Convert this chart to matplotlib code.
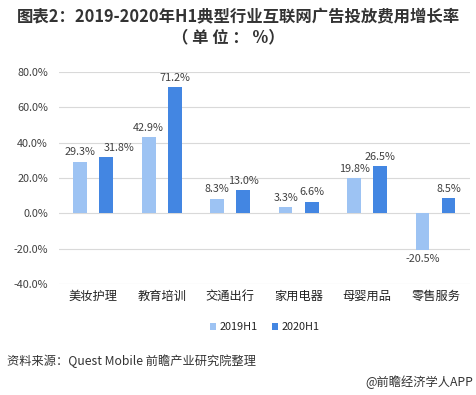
import numpy as np
import matplotlib
matplotlib.use('Agg')
import matplotlib.pyplot as plt

plt.rcParams['font.family'] = ['Noto Sans CJK SC', 'DejaVu Sans']

# Data
categories = ['美妆护理', '教育培训', '交通出行', '家用电器', '母婴用品', '零售服务']
series_names = ['2019H1', '2020H1']
values_2019 = [29.3, 42.9, 8.3, 3.3, 19.8, -20.5]
values_2020 = [31.8, 71.2, 13.0, 6.6, 26.5, 8.5]
yticks = [-40, -20, 0, 20, 40, 60, 80]

color_2019 = '#9dc3f3'
color_2020 = '#4386e2'
text_color = '#404040'

fig = plt.figure(figsize=(4.76, 3.95), dpi=100)
ax = fig.add_axes([0.124, 0.281, 0.863, 0.537])

x = np.arange(len(categories))
w = 0.2
off = 0.19
b1 = ax.bar(x - off, values_2019, w, color=color_2019, label=series_names[0], zorder=3)
b2 = ax.bar(x + off, values_2020, w, color=color_2020, label=series_names[1], zorder=3)

labels = {0: [], 1: []}
for k, (bars, vals) in enumerate([(b1, values_2019), (b2, values_2020)]):
    for rect, v in zip(bars, vals):
        cx = rect.get_x() + rect.get_width() / 2
        if v >= 0:
            t = ax.text(cx, v + 2.5, f'{v:.1f}%', ha='center', va='bottom',
                        fontsize=7.8, color=text_color)
        else:
            t = ax.text(cx, v - 2.5, f'{v:.1f}%', ha='center', va='top',
                        fontsize=7.8, color=text_color)
        labels[k].append(t)

ax.set_xlim(-0.5, len(categories) - 0.5)
ax.set_ylim(-40, 80)
ax.set_yticks(yticks)
ax.set_yticklabels([f'{t:.1f}%' for t in yticks], fontsize=7.8, color=text_color)
ax.set_xticks(x)
ax.set_xticklabels(categories, fontsize=8.8, color='#222222')
ax.tick_params(axis='both', length=0)
ax.tick_params(axis='y', pad=8)
ax.tick_params(axis='x', pad=4)
ax.grid(axis='y', color='#d9d9d9', linewidth=0.8, zorder=0)
for s in ax.spines.values():
    s.set_visible(False)

# nudge 2020 labels to the right when they clearly collide with the 2019 label
fig.canvas.draw()
r = fig.canvas.get_renderer()
for a, b in zip(labels[0], labels[1]):
    ba = a.get_window_extent(r)
    bb = b.get_window_extent(r)
    vert = min(ba.y1, bb.y1) - max(ba.y0, bb.y0)
    horiz = ba.x1 - bb.x0
    if vert > 0 and horiz > 3:
        shift = horiz + 8
        xd, yd = b.get_position()
        px = ax.transData.transform((xd, yd))
        b.set_position(ax.transData.inverted().transform((px[0] + shift, px[1])))

ax.legend(loc='center', bbox_to_anchor=(0.5, -0.205), ncol=2, frameon=False,
          fontsize=7.8, handlelength=0.6, handleheight=0.6, handletextpad=0.3,
          columnspacing=1.3, labelcolor='#222222')

fig.text(0.5, 0.955, '图表2：2019-2020年H1典型行业互联网广告投放费用增长率',
         ha='center', va='center', fontsize=11.8, fontweight='bold', color='#333333')
fig.text(0.48, 0.905, '（ 单 位 ： %）', ha='center', va='center', fontsize=11.8,
         fontweight='bold', color='#333333')

fig.text(0.015, 0.085, '资料来源：Quest Mobile 前瞻产业研究院整理', ha='left',
         va='center', fontsize=8.8, color='#333333')
fig.text(0.995, 0.033, '@前瞻经济学人APP', ha='right', va='center', fontsize=8.8,
         color='#333333')

fig.savefig('out.png', dpi=100)
